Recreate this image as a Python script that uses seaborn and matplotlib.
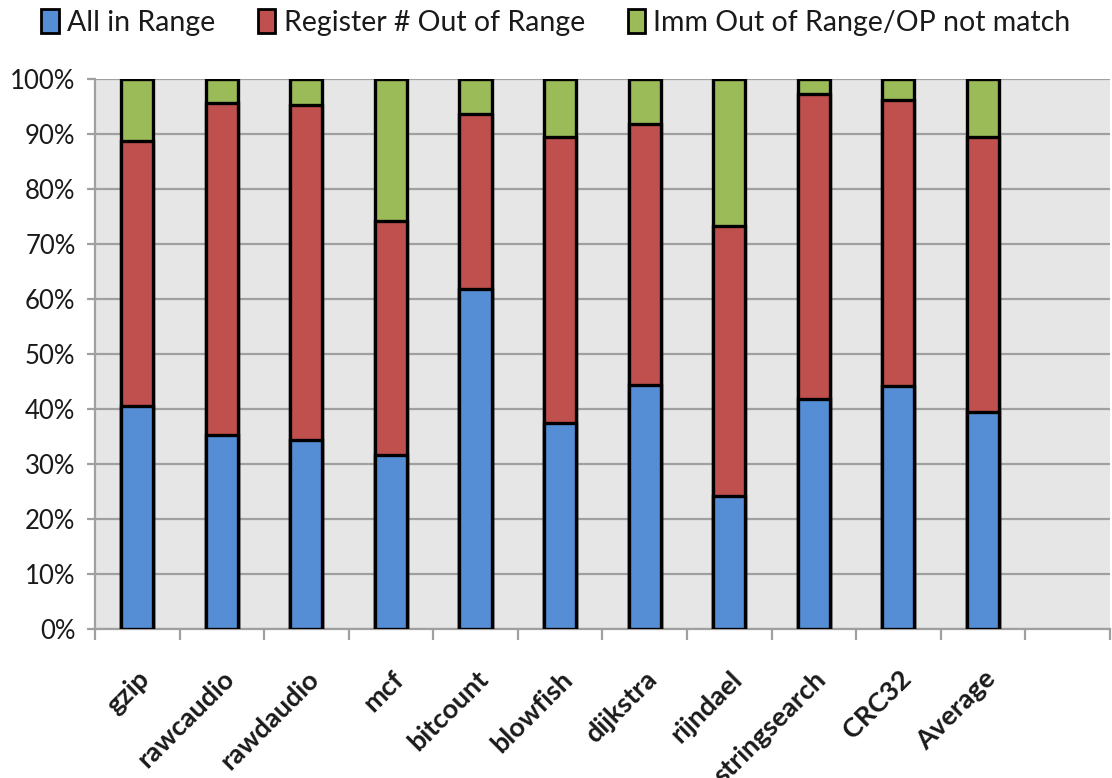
import numpy as np
import pandas as pd
import matplotlib
matplotlib.use("Agg")
import matplotlib.pyplot as plt
from matplotlib.patches import Patch
from matplotlib.ticker import FixedLocator, PercentFormatter
import seaborn as sns

benchmarks = ["gzip", "rawcaudio", "rawdaudio", "mcf", "bitcount", "blowfish",
              "dijkstra", "rijndael", "stringsearch", "CRC32", "Average"]
all_in_range = [40.5, 35.3, 34.4, 31.7, 61.8, 37.4, 44.4, 24.2, 41.8, 44.2, 39.5]
register_out = [48.2, 60.3, 60.8, 42.5, 31.8, 52.1, 47.4, 49.1, 55.5, 52.0, 50.0]
imm_out = [100 - a - r for a, r in zip(all_in_range, register_out)]

series_names = ["All in Range", "Register # Out of Range", "Imm Out of Range/OP not match"]
colors = ["#558ED5", "#C0504D", "#9BBB59"]

# one empty slot after the last benchmark
slots = benchmarks + [" "]

df = pd.DataFrame({
    "benchmark": benchmarks,
    "blue": all_in_range,
    "red": register_out,
    "green": imm_out,
})
df["top_red"] = df["blue"] + df["red"]
df["top_green"] = df["top_red"] + df["green"]

sns.set_theme(style="white")
plt.rcParams["font.family"] = ["Lato", "DejaVu Sans"]

fig = plt.figure(figsize=(11.12, 7.78), dpi=100)
ax = fig.add_axes([0.0854, 0.1915, 0.9126, 0.707])
ax.set_facecolor("#E6E6E6")

bar_kw = dict(order=slots, width=0.38, edgecolor="black", linewidth=2.4, ax=ax, zorder=3)
sns.barplot(data=df, x="benchmark", y="top_green", color=colors[2], saturation=1, **bar_kw)
sns.barplot(data=df, x="benchmark", y="top_red", color=colors[1], saturation=1, **bar_kw)
sns.barplot(data=df, x="benchmark", y="blue", color=colors[0], saturation=1, **bar_kw)

ax.set_xlim(-0.5, len(slots) - 0.5)
ax.set_ylim(0, 100)
ax.set_xlabel("")
ax.set_ylabel("")

ax.yaxis.set_major_locator(FixedLocator(np.arange(0, 101, 10)))
ax.yaxis.set_major_formatter(PercentFormatter(decimals=0))
ax.grid(axis="y", color="#A0A0A0", linewidth=1.6, zorder=0)
ax.set_axisbelow(True)

for side in ["top", "right"]:
    ax.spines[side].set_visible(False)
for side in ["left", "bottom"]:
    ax.spines[side].set_color("#A0A0A0")
    ax.spines[side].set_linewidth(1.6)

ax.tick_params(axis="y", which="major", length=6, width=1.6, color="#A0A0A0",
               labelsize=18.5, labelcolor="#1a1a1a", pad=8, direction="out", left=True)

ax.set_xticks(range(len(slots)))
ax.set_xticklabels(slots, rotation=45, ha="right", rotation_mode="anchor",
                   fontweight="bold", fontsize=19.5, color="#1a1a1a")
ax.set_xticks(np.arange(-0.5, len(slots), 1.0), minor=True)
ax.tick_params(axis="x", which="major", length=0, pad=27)
ax.tick_params(axis="x", which="minor", length=8, width=1.6, color="#A0A0A0",
               direction="out", bottom=True)

handles = [Patch(facecolor=c, edgecolor="black", linewidth=2.0) for c in colors]
fig.legend(handles, series_names, loc="center", bbox_to_anchor=(0.5, 0.971), ncol=3,
           frameon=False, fontsize=20.5, handlelength=0.6, handleheight=0.9,
           handletextpad=0.3, columnspacing=1.5, labelcolor="#1a1a1a")

fig.savefig("out.png", dpi=100)
